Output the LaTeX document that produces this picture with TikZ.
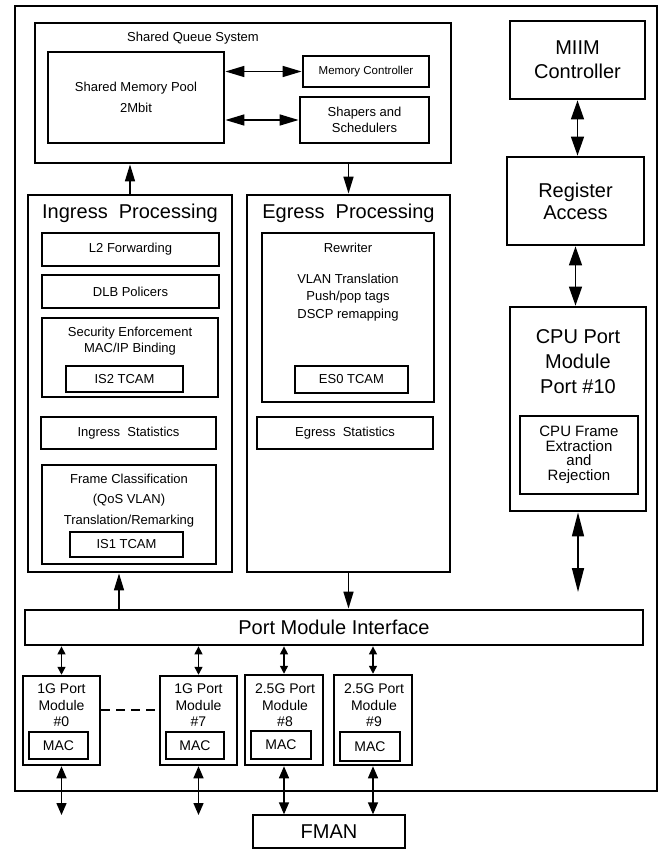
\documentclass[tikz,border=0pt]{standalone}
\usepackage{fontspec}
\setmainfont{Liberation Sans}
\usetikzlibrary{arrows.meta}

\begin{document}
\begin{tikzpicture}[x=1pt,y=-1pt,
	blk/.style={draw,line width=2.8pt,inner sep=0pt,align=center},
	txt/.style={inner sep=0pt,align=center},
	fa/.style={font=\fontsize{11.5}{14}\selectfont},
	fb/.style={font=\fontsize{13}{16}\selectfont},
	fc/.style={font=\fontsize{14}{16.5}\selectfont},
	fd/.style={font=\fontsize{15}{14.5}\selectfont},
	fe/.style={font=\fontsize{20}{24}\selectfont},
	arr/.style={line width=1.5pt,-{Triangle[length=17pt,width=10pt]}},
	dbl/.style={line width=1.5pt,{Triangle[length=19pt,width=11pt]}-{Triangle[length=19pt,width=11pt]}},
	rdbl/.style={line width=1.5pt,{Triangle[length=19pt,width=13pt]}-{Triangle[length=19pt,width=13pt]}},
	sdbl/.style={line width=1.4pt,{Triangle[length=8pt,width=8pt]}-{Triangle[length=8pt,width=8pt]}},
	bdbl/.style={line width=1.4pt,{Triangle[length=12pt,width=10pt]}-{Triangle[length=12pt,width=10pt]}}]
	\useasboundingbox (0,0) rectangle (661,851);
	\node[blk,line width=2.5pt,minimum width=642pt,minimum height=785pt] (chip) at (336,398.5) {};
	% shared queue system
	\node[blk,minimum width=416pt,minimum height=140pt] (sqs) at (243,93) {};
	\node[txt,fb] (sqst) at (193,38) {Shared Queue System};
	\node[blk,minimum width=176pt,minimum height=91pt,font=\fontsize{13}{21}\selectfont] (pool) at (136,97.5) {Shared Memory Pool\\2Mbit};
	\node[blk,minimum width=126pt,minimum height=31pt,fa] (mc) at (366,71.5) {Memory Controller};
	\node[blk,minimum width=129pt,minimum height=46pt,fb] (ss) at (364.5,120) {Shapers and\\Schedulers};
	\draw[dbl] (pool.east |- mc.west) -- (mc.west);
	\draw[dbl] (pool.east |- ss.west) -- (ss.west);
	% ingress
	\node[blk,minimum width=204pt,minimum height=377pt] (ing) at (130,383.5) {};
	\node[txt,fe] (ingt) at (130,213) {Ingress\ \ Processing};
	\node[blk,minimum width=177pt,minimum height=33pt,fb] (l2) at (130.5,249.5) {L2 Forwarding};
	\node[blk,minimum width=177pt,minimum height=33pt,fb] (dlb) at (130.5,291.5) {DLB Policers};
	\node[blk,minimum width=176pt,minimum height=79pt] (sec) at (130,357.5) {};
	\node[txt,fb] (sect) at (130,341) {Security Enforcement\\MAC/IP Binding};
	\node[blk,minimum width=117pt,minimum height=26pt,fb] (is2) at (124.5,379) {IS2 TCAM};
	\node[blk,minimum width=175pt,minimum height=32pt,fb] (istat) at (128.5,433) {Ingress\ \ Statistics};
	\node[blk,minimum width=174pt,minimum height=99pt] (frm) at (129,514.5) {};
	\node[txt,font=\fontsize{13}{20.5}\selectfont] (frmt) at (129,500.5) {Frame Classification\\(QoS VLAN)\\Translation/Remarking};
	\node[blk,minimum width=113pt,minimum height=25pt,fb] (is1) at (126.5,544.5) {IS1 TCAM};
	% egress
	\node[blk,minimum width=203pt,minimum height=377pt] (egr) at (348.5,383.5) {};
	\node[txt,fe] (egrt) at (348.5,213) {Egress\ \ Processing};
	\node[blk,minimum width=172pt,minimum height=169pt] (rw) at (348,317.5) {};
	\node[txt,fb] (rwt) at (348,248) {Rewriter};
	\node[txt,font=\fontsize{13}{17.5}\selectfont] (rwl) at (348,297.5) {VLAN Translation\\Push/pop tags\\DSCP remapping};
	\node[blk,minimum width=113pt,minimum height=27pt,fb] (es0) at (351.5,379.5) {ES0 TCAM};
	\node[blk,minimum width=176pt,minimum height=32pt,fb] (estat) at (345,433) {Egress\ \ Statistics};
	\draw[arr] (ing.north) -- (ing.north |- sqs.south);
	\draw[arr] (egr.north |- sqs.south) -- (egr.north);
	% right column
	\node[blk,minimum width=135pt,minimum height=78pt,fe] (miim) at (577.5,60) {MIIM\\Controller};
	\node[blk,minimum width=137pt,minimum height=88pt,font=\fontsize{20}{22}\selectfont] (reg) at (575.5,201) {Register\\Access};
	\node[blk,minimum width=136pt,minimum height=204pt] (cpu) at (578,409) {};
	\node[txt,font=\fontsize{20}{25}\selectfont] (cput) at (578,362) {CPU Port\\Module\\Port \#10};
	\node[blk,minimum width=118pt,minimum height=78pt,fd] (cpufx) at (579,455) {CPU Frame\\Extraction\\and\\Rejection};
	\coordinate (cpuout) at (578,592);
	\draw[rdbl] (miim.south) -- (miim.south |- reg.north);
	\draw[rdbl] (reg.south) -- (reg.south |- cpu.north);
	\draw[line width=1.5pt,{Triangle[length=24pt,width=12pt]}-{Triangle[length=24pt,width=12pt]}] (cpu.south) -- (cpuout);
	% port modules
	\node[blk,minimum width=618pt,minimum height=35pt,fe] (pmi) at (334,627.5) {Port Module Interface};
	\coordinate (ingin) at ([xshift=-11pt]ing.south);
	\draw[arr] (ingin |- pmi.north) -- (ingin);
	\draw[arr] (egr.south) -- (egr.south |- pmi.north);
	\node[blk,line width=2.5pt,minimum width=77pt,minimum height=89pt] (pm0) at (61.5,720.5) {};
	\node[txt,fc] (pm0t) at (61.5,705.5) {1G Port\\Module\\\#0};
	\node[blk,line width=2.5pt,minimum width=59pt,minimum height=27pt,fc] (mac0) at (58.5,745.5) {MAC};
	\node[blk,line width=2.5pt,minimum width=77pt,minimum height=89pt] (pm7) at (198.5,720.5) {};
	\node[txt,fc] (pm7t) at (198.5,705.5) {1G Port\\Module\\\#7};
	\node[blk,line width=2.5pt,minimum width=58pt,minimum height=27pt,fc] (mac7) at (195,745.5) {MAC};
	\node[blk,line width=2.5pt,minimum width=78pt,minimum height=90pt] (pm8) at (284,720) {};
	\node[txt,fc] (pm8t) at (285,705.5) {2.5G Port\\Module\\\#8};
	\node[blk,line width=2.5pt,minimum width=60pt,minimum height=28pt,fc] (mac8) at (281,745) {MAC};
	\node[blk,line width=2.5pt,minimum width=78pt,minimum height=90pt] (pm9) at (373,720) {};
	\node[txt,fc] (pm9t) at (374,705.5) {2.5G Port\\Module\\\#9};
	\node[blk,line width=2.5pt,minimum width=60pt,minimum height=29pt,fc] (mac9) at (370,746.5) {MAC};
	\draw[line width=1.5pt,dash pattern=on 9pt off 6pt] ([yshift=10.5pt]pm0.east) -- ([yshift=10.5pt]pm7.west);
	\draw[sdbl] (pmi.south -| pm0.north) -- (pm0.north);
	\draw[sdbl] (pmi.south -| pm7.north) -- (pm7.north);
	\draw[sdbl] (pmi.south -| pm8.north) -- (pm8.north);
	\draw[sdbl] (pmi.south -| pm9.north) -- (pm9.north);
	% outside
	\node[draw,line width=1.3pt,minimum width=152pt,minimum height=33pt,fe] (fman) at (329,831.5) {FMAN};
	\coordinate (out0) at (61.5,815);
	\coordinate (out7) at (198.5,815);
	\draw[bdbl] (pm0.south) -- (out0);
	\draw[bdbl] (pm7.south) -- (out7);
	\draw[bdbl] (pm8.south) -- (pm8.south |- fman.north);
	\draw[bdbl] (pm9.south) -- (pm9.south |- fman.north);
\end{tikzpicture}
\end{document}
